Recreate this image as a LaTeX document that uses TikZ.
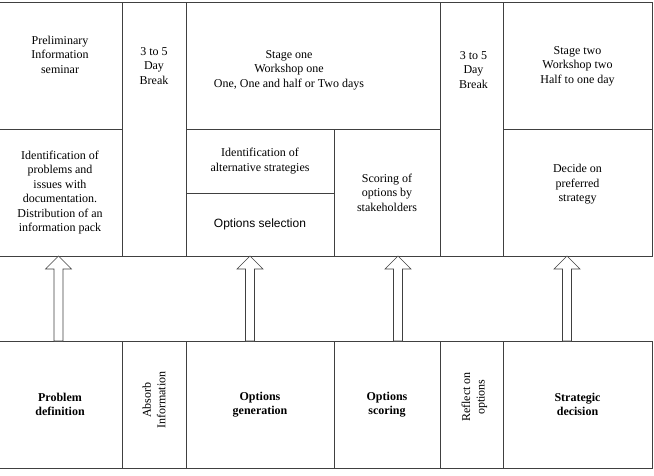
\documentclass[tikz,border=0pt,12pt]{standalone}
\usepackage{fontspec}
\setmainfont{Liberation Serif}
\newfontfamily\arialfont{Liberation Sans}
\usetikzlibrary{positioning,calc}

\begin{document}
\begin{tikzpicture}[x=1pt, y=-1pt,
    celda/.style={draw=black!75, line width=0.6pt, outer sep=0pt, inner sep=0pt,
                  align=center, anchor=north west},
    rotulo/.style={align=center, anchor=center},
    negrita/.style={font=\bfseries},
    flechabloque/.style={draw=black!75, line width=0.6pt, fill=white,
        to path={let \p1=(\tikztostart), \p2=(\tikztotarget) in
          (\x1-4.5pt,\y1) -- (\x1-4.5pt,\y2-13pt) -- (\x1-13pt,\y2-13pt) -- (\x1,\y2)
          -- (\x1+13pt,\y2-13pt) -- (\x1+4.5pt,\y2-13pt) -- (\x1+4.5pt,\y1) -- cycle}}]
  \useasboundingbox (0,0) rectangle (654,475);
  % fila de etapas
  \node[celda, minimum width=124, minimum height=127,
        label={[rotulo, yshift=-52.5]90:{Preliminary\\Information\\seminar}}] (prelim) at (-2,2) {};
  \node[celda, minimum width=64, minimum height=254,
        label={[rotulo, yshift=-64]90:{3 to 5\\Day\\Break}}] (pausa1) at (prelim.north east) {};
  \node[celda, minimum width=254, minimum height=127,
        label={[rotulo, xshift=-24, yshift=-68]90:{Stage one\\Workshop one\\One, One and half or Two days}}] (etapa1) at (pausa1.north east) {};
  \node[celda, minimum width=63, minimum height=254,
        label={[rotulo, xshift=2, yshift=-68]90:{3 to 5\\Day\\Break}}] (pausa2) at (etapa1.north east) {};
  \node[celda, minimum width=149, minimum height=127,
        label={[rotulo, yshift=-64]90:{Stage two\\Workshop two\\Half to one day}}] (etapa2) at (pausa2.north east) {};
  % actividades
  \node[celda, minimum width=124, minimum height=127, below=0pt of prelim] (identprob) {Identification of\\problems and\\issues with\\documentation.\\Distribution of an\\information pack};
  \node[celda, minimum width=148, minimum height=64] (identalt) at (etapa1.south west) {Identification of\\alternative strategies};
  \node[celda, minimum width=148, minimum height=63, below=0pt of identalt, font=\arialfont] (selec) {Options selection};
  \node[celda, minimum width=106, minimum height=127] (puntua) at (identalt.north east) {Scoring of\\options by\\stakeholders};
  \node[celda, minimum width=149, minimum height=127, below=0pt of etapa2,
        label={[rotulo, yshift=-55.5]90:{Decide on\\preferred\\strategy}}] (decide) {};
  % fila de fases
  \node[celda, negrita, minimum width=124, minimum height=127] (probdef) at (-2,341) {Problem\\definition};
  \node[celda, minimum width=64, minimum height=127, right=0pt of probdef,
        label={[rotulo, yshift=-59, rotate=90]90:{Absorb\\Information}}] (absorbe) {};
  \node[celda, negrita, minimum width=148, minimum height=127, right=0pt of absorbe] (optgen) {Options\\generation};
  \node[celda, negrita, minimum width=106, minimum height=127, right=0pt of optgen] (optpunt) {Options\\scoring};
  \node[celda, minimum width=63, minimum height=127, right=0pt of optpunt,
        label={[rotulo, xshift=3, yshift=-56, rotate=90]90:{Reflect on\\options}}] (reflexion) {};
  \node[celda, negrita, minimum width=149, minimum height=127, right=0pt of reflexion] (estrateg) {Strategic\\decision};
  % flechas
  \draw[flechabloque] ([xshift=-1.5]probdef.north) to (identprob.south);
  \draw[flechabloque] ([xshift=-10]optgen.north) to (selec.south);
  \draw[flechabloque] ([xshift=11]optpunt.north) to (puntua.south);
  \draw[flechabloque] ([xshift=-10.5]estrateg.north) to (decide.south);
\end{tikzpicture}
\end{document}
